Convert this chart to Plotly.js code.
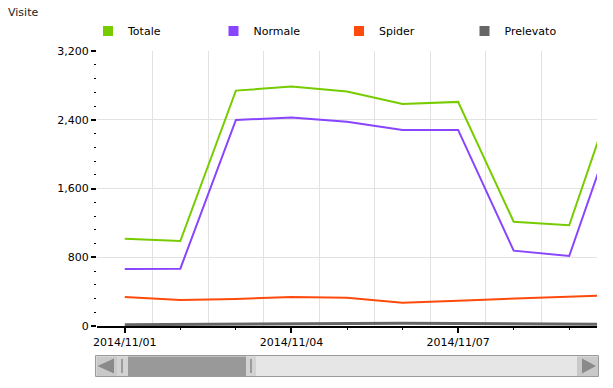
<!DOCTYPE html>
<html>
<head>
<meta charset="utf-8">
<script src="https://cdn.plot.ly/plotly-3.0.1.min.js"></script>
<style>
  html, body { margin: 0; padding: 0; background: #fff; }
  #chart { width: 613px; height: 388px; }
</style>
</head>
<body>
<div id="chart"></div>
<script>
// ---- data ----
const days = ['2014-11-01','2014-11-02','2014-11-03','2014-11-04','2014-11-05',
              '2014-11-06','2014-11-07','2014-11-08','2014-11-09','2014-11-10'];
const totale    = [1016, 989, 2739, 2786, 2728, 2584, 2608, 1214, 1172, 3062];
const normale   = [663, 667, 2398, 2425, 2378, 2282, 2282, 877, 815, 2677];
const spider    = [338, 303, 314, 338, 330, 271, 295, 322, 341, 365];
const prelevato = [15, 18, 22, 28, 32, 32, 28, 22, 16, 20];
const seriesNames  = ['Totale', 'Normale', 'Spider', 'Prelevato'];
const seriesColors = ['#77cc00', '#8844ff', '#ff4a0d', '#666666'];
const labelDays  = ['2014-11-01', '2014-11-04', '2014-11-07'];
const labelTexts = ['2014/11/01', '2014/11/04', '2014/11/07'];
const yTicks = [0, 800, 1600, 2400, 3200];

// ---- helpers ----
const FONT = 'DejaVu Sans, Verdana, sans-serif';
const W = 613, H = 388;
const M = {l: 97, r: 16, t: 51, b: 62};
const PW = W - M.l - M.r, PH = H - M.t - M.b;
function px(x) { return (x - M.l) / PW; }
function py(y) { return (H - M.b - y) / PH; }

function shiftDay(d, n, hh) {
  const t = new Date(d + 'T00:00:00Z');
  t.setUTCDate(t.getUTCDate() + n);
  return t.toISOString().slice(0, 10) + (hh ? ' ' + hh : '');
}
const halfDays = [shiftDay(days[0], -1, '12:00')].concat(days.map(d => d + ' 12:00'));
const xRange = [halfDays[0], shiftDay(days[days.length - 2], 0, '12:00')];

const values = [totale, normale, spider, prelevato];
const traces = [];
values.forEach((v, i) => {
  traces.push({
    x: days, y: v, type: 'scatter', mode: 'lines', name: seriesNames[i],
    xaxis: i === 3 ? 'x2' : 'x',
    line: {color: seriesColors[i], width: i === 3 ? 3 : 2},
    showlegend: false, hoverinfo: 'x+y'
  });
});
// legend entries (square symbols)
seriesNames.forEach((n, i) => {
  traces.push({
    x: [null], y: [null], type: 'scatter', mode: 'markers', name: n,
    marker: {symbol: 'square', size: 10, color: seriesColors[i]},
    showlegend: true
  });
});

// ---- scrollbar decoration ----
function rect(x0, y0, x1, y1, fill, line) {
  return {type: 'rect', xref: 'paper', yref: 'paper',
          x0: px(x0), x1: px(x1), y0: py(y1), y1: py(y0),
          fillcolor: fill, line: {color: line || fill, width: line ? 1 : 0}, layer: 'above'};
}
function tri(pts, fill) {
  const d = 'M' + pts.map(p => px(p[0]) + ',' + py(p[1])).join(' L') + ' Z';
  return {type: 'path', xref: 'paper', yref: 'paper', path: d,
          fillcolor: fill, line: {color: fill, width: 0}, layer: 'above'};
}
function vline(x, y0, y1, c) {
  return {type: 'line', xref: 'paper', yref: 'paper', x0: px(x), x1: px(x),
          y0: py(y0), y1: py(y1), line: {color: c, width: 1.5}, layer: 'above'};
}
const shapes = [
  rect(95.5, 355.5, 598.5, 376.5, '#e6e6e6', '#9a9a9a'),
  rect(96.5, 356.5, 117, 376, '#c9c9c9'),
  tri([[97.5, 366], [114, 358.5], [114, 373.5]], '#8a8a8a'),
  rect(117, 356.5, 128, 376, '#d3d3d3'),
  rect(128, 356.5, 246, 376, '#999999'),
  rect(246, 356.5, 256, 376, '#d3d3d3'),
  vline(122, 359, 373, '#8a8a8a'),
  vline(251, 359, 373, '#8a8a8a'),
  rect(577, 356.5, 598, 376, '#c9c9c9'),
  tri([[596, 366], [582, 358.5], [582, 373.5]], '#8a8a8a')
];

const layout = {
  width: W, height: H,
  margin: M,
  paper_bgcolor: '#ffffff', plot_bgcolor: '#ffffff',
  font: {family: FONT, size: 11, color: '#000'},
  title: {text: 'Visite', x: 8 / W, xanchor: 'left', xref: 'container',
          y: 1 - 12 / H, yanchor: 'middle', yref: 'container',
          font: {family: FONT, size: 11, color: '#222'}},
  showlegend: true,
  legend: {orientation: 'h', x: px(88), xanchor: 'left', y: py(31), yanchor: 'middle',
           entrywidth: 80.5, entrywidthmode: 'pixels', itemclick: false,
           font: {family: FONT, size: 11, color: '#000'}, bgcolor: 'rgba(0,0,0,0)'},
  xaxis: {
    type: 'date', range: xRange, fixedrange: true,
    tickmode: 'array', tickvals: labelDays, ticktext: labelTexts,
    ticks: 'outside', ticklen: 5, tickwidth: 2, tickcolor: '#000',
    showline: true, linecolor: '#000', linewidth: 2,
    showgrid: false, zeroline: false,
    tickfont: {family: FONT, size: 11, color: '#000'},
    minor: {tickmode: 'array', tickvals: halfDays, ticks: '', showgrid: true,
            gridcolor: '#e2e2e2', gridwidth: 1}
  },
  xaxis2: {
    type: 'date', overlaying: 'x', matches: 'x', anchor: 'y', side: 'bottom',
    tickmode: 'array', tickvals: days, ticks: 'outside', ticklen: 3, tickwidth: 1,
    tickcolor: '#000', showticklabels: false, showgrid: false, showline: false,
    zeroline: false, fixedrange: true
  },
  yaxis: {
    range: [0, 3200], fixedrange: true,
    tickmode: 'array', tickvals: yTicks, tickformat: ',',
    ticks: 'outside', ticklen: 5, tickwidth: 2, tickcolor: '#000',
    showline: false, zeroline: false,
    showgrid: true, gridcolor: '#e2e2e2', gridwidth: 1,
    tickfont: {family: FONT, size: 11, color: '#000'},
    minor: {dtick: 160, ticks: 'outside', ticklen: 2, tickwidth: 1, tickcolor: '#000', showgrid: false}
  },
  shapes: shapes
};

Plotly.newPlot('chart', traces, layout, {displayModeBar: false, staticPlot: true});
</script>
</body>
</html>
